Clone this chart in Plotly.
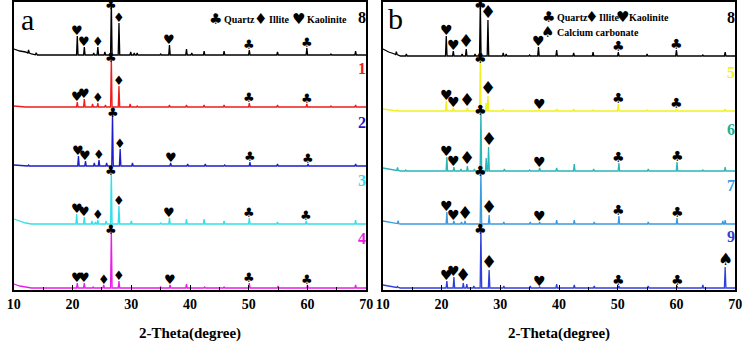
import numpy as np
import plotly.graph_objects as go

# ================= Panel a data (2-theta in degrees, intensity a.u.) =================
a_labels = ["8", "1", "2", "3", "4"]
a_colors = ["#000000", "#ee1c1c", "#1c1ccc", "#33e0e8", "#e61ee6"]
a_offsets = [235, 183, 124, 66, 2]
a_label_y = [273, 222, 168, 110, 52]

a8_pos = [12.5, 13.8, 20.8, 22.0, 23.6, 24.3, 25.5, 26.6, 27.9, 29.9, 30.5, 31.0, 35.0, 36.5, 39.4, 40.3, 42.4, 45.8, 50.1, 54.9, 59.9, 64.0, 68.2]
a8_int = [3, 2, 19, 8, 2, 8, 3, 54, 32, 3, 2, 2, 1, 10, 6, 2, 4, 4, 5, 3, 7, 1, 4]
a8_phase = ["", "", "K", "K", "", "I", "", "Q", "I", "", "", "", "", "K", "", "", "", "", "Q", "", "Q", "", ""]
a8_bg_x = [10, 11, 12, 13, 14, 70]
a8_bg_y = [6, 4, 3, 1, 0, 0]

a1_pos = [20.8, 22.0, 23.4, 24.3, 25.6, 26.6, 27.9, 29.8, 31.0, 36.5, 39.4, 42.4, 45.8, 50.1, 54.9, 59.9, 64.0, 68.2]
a1_int = [5, 8, 3, 4, 2, 50, 21, 3, 1, 2, 2, 2, 2, 4, 2, 3, 1, 2]
a1_phase = ["K", "K", "", "I", "", "Q", "I", "", "", "", "", "", "", "Q", "", "Q", "", ""]
a1_bg_x = [10, 12, 70]
a1_bg_y = [1, 0, 0]

a2_pos = [12.5, 21.0, 22.2, 23.7, 24.5, 25.8, 26.8, 28.1, 30.2, 36.7, 39.6, 42.6, 45.9, 50.2, 54.9, 60.1, 68.2]
a2_int = [1, 10, 5, 3, 6, 3, 54, 17, 3, 3, 2, 2, 1, 4, 2, 2, 2]
a2_phase = ["", "K", "K", "", "I", "", "Q", "I", "", "K", "", "", "", "Q", "", "Q", ""]
a2_bg_x = [10, 12, 70]
a2_bg_y = [1, 0, 0]

a3_pos = [20.7, 22.0, 23.3, 23.9, 24.3, 25.7, 26.6, 27.9, 30.0, 35.0, 36.5, 39.4, 42.4, 45.8, 50.1, 54.9, 59.8, 68.2]
a3_int = [10, 7, 3, 2, 4, 3, 54, 18, 3, 1, 6, 5, 5, 3, 6, 2, 3, 4]
a3_phase = ["K", "K", "", "", "I", "", "Q", "I", "", "", "K", "", "", "", "Q", "", "Q", ""]
a3_bg_x = [10, 11, 12, 13, 70]
a3_bg_y = [5, 3, 1, 0, 0]

a4_pos = [20.8, 22.0, 23.5, 25.3, 26.6, 27.9, 35.0, 36.6, 39.4, 42.5, 45.8, 50.1, 55.0, 60.0, 68.2]
a4_int = [5, 5, 1, 3, 59, 7, 1, 3, 4, 1, 1, 5, 2, 3, 3]
a4_phase = ["K", "K", "", "I", "Q", "I", "", "K", "", "", "", "Q", "", "Q", ""]
a4_bg_x = [10, 11, 12, 13, 70]
a4_bg_y = [4, 2, 1, 0, 0]

# ================= Panel b data =================
b_labels = ["8", "5", "6", "7", "9"]
b_colors = ["#000000", "#f2f01e", "#2bb5b5", "#3a9be0", "#2f3fd8"]
b_label_colors = ["#000000", "#f2f01e", "#22b08a", "#3a9be0", "#3040d0"]
b_offsets = [234, 179, 119, 66, 2]
b_label_y = [273, 218, 161, 105, 54]

b8_pos = [12.3, 14.0, 20.8, 22.0, 23.5, 24.2, 25.7, 26.6, 27.9, 30.5, 31.0, 35.0, 36.5, 39.6, 42.5, 45.8, 50.1, 55.0, 60.0, 64.5, 68.3]
b8_int = [3, 2, 20, 5, 2, 7, 2, 55, 36, 3, 2, 1, 9, 6, 3, 4, 4, 2, 6, 1, 4]
b8_phase = ["", "", "K", "K", "", "I", "", "Q", "I", "", "", "", "K", "", "", "", "Q", "", "Q", "", ""]
b8_bg_x = [10, 11, 12, 13, 70]
b8_bg_y = [7, 4, 2, 0, 0]

b5_pos = [12.5, 20.8, 22.0, 24.4, 26.6, 27.6, 27.9, 30.5, 36.6, 39.6, 42.5, 45.8, 50.1, 55.0, 60.0, 68.3]
b5_int = [1, 10, 3, 3, 53, 8, 15, 2, 1, 2, 2, 1, 7, 1, 2, 2]
b5_phase = ["", "K", "K", "I", "Q", "", "I", "", "K", "", "", "", "Q", "", "Q", ""]
b5_bg_x = [10, 12, 70]
b5_bg_y = [2, 0, 0]

b6_pos = [12.5, 13.9, 20.9, 22.1, 23.3, 24.4, 25.6, 26.7, 27.6, 28.0, 30.7, 35.0, 36.7, 39.6, 42.6, 45.9, 50.2, 55.2, 60.1, 64.5, 68.3]
b6_int = [3, 1, 14, 4, 2, 5, 2, 61, 13, 24, 2, 1, 3, 3, 7, 2, 8, 2, 9, 1, 4]
b6_phase = ["", "", "K", "K", "", "I", "", "Q", "", "I", "", "", "K", "", "", "", "Q", "", "Q", "", ""]
b6_bg_x = [10, 11, 12, 13, 70]
b6_bg_y = [3, 2, 1, 0, 0]

b7_pos = [12.6, 20.9, 22.1, 23.4, 24.0, 26.7, 28.1, 30.6, 35.1, 36.7, 39.6, 42.6, 46.0, 50.2, 55.2, 60.1, 67.9, 68.3]
b7_int = [3, 12, 3, 2, 3, 53, 9, 2, 2, 2, 4, 4, 2, 8, 2, 6, 3, 4]
b7_phase = ["", "K", "K", "", "I", "Q", "I", "", "", "K", "", "", "", "Q", "", "Q", "", ""]
b7_bg_x = [10, 11, 12, 13, 70]
b7_bg_y = [3, 2, 1, 0, 0]

b9_pos = [12.5, 20.9, 22.1, 23.7, 24.3, 25.5, 26.7, 28.1, 30.6, 35.1, 36.7, 39.6, 42.6, 46.0, 50.2, 55.2, 60.1, 64.5, 68.3]
b9_int = [1, 7, 11, 5, 4, 2, 59, 18, 2, 2, 1, 4, 3, 2, 2, 2, 2, 3, 21]
b9_phase = ["", "K", "K", "I", "", "", "Q", "I", "", "", "K", "", "", "", "Q", "", "Q", "", "C"]
b9_bg_x = [10, 11, 12, 13, 70]
b9_bg_y = [3, 2, 1, 0, 0]

x_ticks = [10, 20, 30, 40, 50, 60, 70]
x_title = "2-Theta(degree)"

SYM = {"Q": "♣", "I": "♦", "K": "♥", "C": "♠"}

a_series = [
    (a8_pos, a8_int, a8_phase, a8_bg_x, a8_bg_y),
    (a1_pos, a1_int, a1_phase, a1_bg_x, a1_bg_y),
    (a2_pos, a2_int, a2_phase, a2_bg_x, a2_bg_y),
    (a3_pos, a3_int, a3_phase, a3_bg_x, a3_bg_y),
    (a4_pos, a4_int, a4_phase, a4_bg_x, a4_bg_y),
]
b_series = [
    (b8_pos, b8_int, b8_phase, b8_bg_x, b8_bg_y),
    (b5_pos, b5_int, b5_phase, b5_bg_x, b5_bg_y),
    (b6_pos, b6_int, b6_phase, b6_bg_x, b6_bg_y),
    (b7_pos, b7_int, b7_phase, b7_bg_x, b7_bg_y),
    (b9_pos, b9_int, b9_phase, b9_bg_x, b9_bg_y),
]


def build(pos, inten, bgx, bgy, off, hw=0.13):
    xs = list(bgx)
    ys = list(bgy)
    for p, h in zip(pos, inten):
        b = float(np.interp(p, bgx, bgy))
        xs += [p - hw, p, p + hw]
        ys += [b, b + h, b]
    order = np.argsort(xs, kind="stable")
    xs = np.array(xs)[order]
    ys = np.array(ys)[order] + off
    return xs, ys


fig = go.Figure()
annotations = []
SERIF = "Liberation Serif"
SYMF = "DejaVu Sans"


def add_panel(series, offsets, colors, label_colors, labels, label_y, xa, ya, sym_sizes):
    for (pos, inten, phase, bgx, bgy), off, col, lcol, lab, ly in zip(series, offsets, colors, label_colors,
                                                                      labels, label_y):
        xs, ys = build(pos, inten, bgx, bgy, off)
        fig.add_trace(go.Scatter(x=xs, y=ys, mode="lines", line=dict(color=col, width=1.3),
                                 xaxis=xa, yaxis=ya, showlegend=False, hoverinfo="skip"))
        hmax = max(inten)
        for p, h, ph in zip(pos, inten, phase):
            if not ph:
                continue
            top = float(np.interp(p, bgx, bgy)) + h + off
            main = (h == hmax and ph == "Q")
            annotations.append(dict(
                x=p, y=min(top, 286), xref=xa, yref=ya, text=SYM[ph], showarrow=False,
                font=dict(family=SYMF, size=sym_sizes[ph], color="#000000"),
                yanchor="middle" if main else "bottom", yshift=0 if main else -4,
                xanchor="center"))
        annotations.append(dict(
            x=69.35, y=ly, xref=xa, yref=ya, text="<b>%s</b>" % lab,
            showarrow=False, font=dict(family=SERIF, size=16, color=lcol),
            xanchor="center", yanchor="middle"))


add_panel(a_series, a_offsets, a_colors, a_colors, a_labels, a_label_y, "x", "y",
          {"Q": 13, "I": 13, "K": 13, "C": 13})
add_panel(b_series, b_offsets, b_colors, b_label_colors, b_labels, b_label_y, "x2", "y2",
          {"Q": 14, "I": 18, "K": 14, "C": 17})


def deg(px, left):
    return (px - left) / 359.0 * 60 + 10


def yy(py):
    return 290 - py


# legends
for xc, txt, isym in [(212, "♣", True), (219, "Quartz", False), (258, "♦", True), (265, "Illite", False),
                      (297, "♥", True), (304, "Kaolinite", False)]:
    annotations.append(dict(x=deg(xc, 7), y=yy(19), xref="x", yref="y", text=txt if isym else "<b>%s</b>" % txt,
                            showarrow=False, xanchor="center" if isym else "left", yanchor="middle",
                            font=dict(family=SYMF if isym else SERIF, size=15 if isym else 10, color="#000")))
for xc, yc, txt, isym in [(552, 17, "♣", True), (558, 17, "Quartz", False), (596, 17, "♦", True),
                          (601, 17, "Illite", False), (627, 17, "♥", True), (632, 17, "Kaolinite", False),
                          (551, 32, "♠", True), (558, 32, "Calcium carbonate", False)]:
    annotations.append(dict(x=deg(xc, 383), y=yy(yc), xref="x2", yref="y2",
                            text=txt if isym else "<b>%s</b>" % txt,
                            showarrow=False, xanchor="center" if isym else "left", yanchor="middle",
                            font=dict(family=SYMF if isym else SERIF, size=15 if isym else 10, color="#000")))

# panel letters
annotations.append(dict(x=deg(21, 7), y=yy(19), xref="x", yref="y", text="a", showarrow=False,
                        font=dict(family=SERIF, size=30, color="#000"), xanchor="center", yanchor="middle"))
annotations.append(dict(x=deg(396, 383), y=yy(18), xref="x2", yref="y2", text="b", showarrow=False,
                        font=dict(family=SERIF, size=30, color="#000"), xanchor="center", yanchor="middle"))

xcommon = dict(range=[10, 70], tickvals=x_ticks, ticktext=["<b>%d</b>" % v for v in x_ticks],
               ticks="inside", ticklen=5, tickwidth=1.2, tickcolor="#000",
               minor=dict(dtick=5, ticks="inside", ticklen=3, tickcolor="#000"),
               showline=True, linecolor="#000", linewidth=1.5, mirror=True, showgrid=False, zeroline=False,
               tickfont=dict(family=SERIF, size=14, color="#000"),
               title=dict(text="<b>%s</b>" % x_title, font=dict(family=SERIF, size=15, color="#000"), standoff=19))
ycommon = dict(range=[0, 288], showticklabels=False, ticks="", showline=True, linecolor="#000", linewidth=1.5,
               mirror=True, showgrid=False, zeroline=False)

fig.update_layout(
    width=750, height=342, margin=dict(l=0, r=0, t=2, b=52),
    paper_bgcolor="white", plot_bgcolor="white",
    xaxis=dict(domain=[7 / 750, 366 / 750], anchor="y", **xcommon),
    yaxis=dict(domain=[0, 1], anchor="x", **ycommon),
    xaxis2=dict(domain=[383 / 750, 742 / 750], anchor="y2", **xcommon),
    yaxis2=dict(domain=[0, 1], anchor="x2", **ycommon),
    annotations=annotations,
)

fig.write_html("out.html", config={"displayModeBar": False},
               post_script="document.body.style.margin='0px';")
